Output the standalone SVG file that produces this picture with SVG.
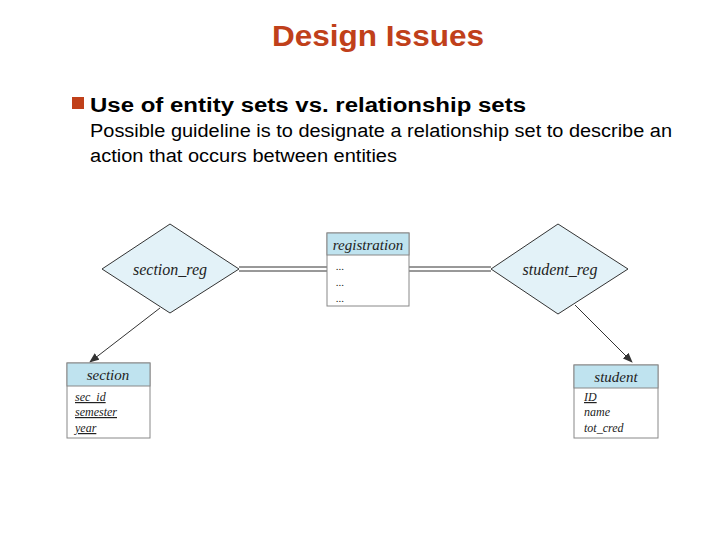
<svg xmlns="http://www.w3.org/2000/svg" width="720" height="540" viewBox="0 0 720 540">
<style>
.t{font-family:"Liberation Sans",Arial,sans-serif}
.er{font-family:"Liberation Serif","Times New Roman",serif;font-style:italic;fill:#222}
.box{fill:#fff;stroke:#888;stroke-width:1}
.hd{fill:#bfe3ef;stroke:#888;stroke-width:1}
.dia{fill:#e3f2f8;stroke:#333;stroke-width:1}
.ln{stroke:#333;stroke-width:1;fill:none}
</style>
<defs><marker id="a" markerWidth="10" markerHeight="8" refX="9" refY="4" orient="auto" markerUnits="userSpaceOnUse"><path d="M0,0L10,4L0,8z" fill="#333"/></marker></defs>
<rect width="720" height="540" fill="#fff"/>
<text class="t" x="272" y="46" font-size="29" font-weight="bold" fill="#c0401a" textLength="212" lengthAdjust="spacingAndGlyphs">Design Issues</text>
<rect x="72" y="97" width="12" height="12" fill="#c0401a"/>
<text class="t" x="90" y="112" font-size="20" font-weight="bold" fill="#000" textLength="436" lengthAdjust="spacingAndGlyphs">Use of entity sets vs. relationship sets</text>
<text class="t" x="90" y="137" font-size="18" fill="#000" textLength="582" lengthAdjust="spacingAndGlyphs">Possible guideline is to designate a relationship set to describe an</text>
<text class="t" x="90" y="162" font-size="18" fill="#000" textLength="307" lengthAdjust="spacingAndGlyphs">action that occurs between entities</text>
<g id="connectors">
<line class="ln" x1="239" y1="267" x2="327" y2="267"/><line class="ln" x1="239" y1="271" x2="327" y2="271"/>
<line class="ln" x1="409" y1="267" x2="491" y2="267"/><line class="ln" x1="409" y1="271" x2="491" y2="271"/>
<line class="ln" x1="160" y1="308" x2="90" y2="362" marker-end="url(#a)"/>
<line class="ln" x1="575" y1="305" x2="632" y2="362" marker-end="url(#a)"/>
</g>
<g id="section_reg"><polygon class="dia" points="102,269 170,224 239,269 170,313"/><text class="er" x="170" y="275" text-anchor="middle" font-size="16">section_reg</text></g>
<g id="student_reg"><polygon class="dia" points="491,269 558,224 628,269 558,314"/><text class="er" x="560" y="275" text-anchor="middle" font-size="16">student_reg</text></g>
<g id="registration"><rect class="box" x="327" y="233" width="82" height="73"/><rect class="hd" x="327" y="233" width="82" height="22"/><text class="er" x="368" y="250" text-anchor="middle" font-size="15">registration</text>
<text class="er" x="336" y="270" font-size="11">...</text><text class="er" x="336" y="286" font-size="11">...</text><text class="er" x="336" y="302" font-size="11">...</text></g>
<g id="section"><rect class="box" x="67" y="363" width="83" height="75"/><rect class="hd" x="67" y="363" width="83" height="23"/><text class="er" x="108" y="380" text-anchor="middle" font-size="15">section</text>
<text class="er" x="75" y="401" font-size="12" text-decoration="underline">sec_id</text><text class="er" x="75" y="416" font-size="12" text-decoration="underline">semester</text><text class="er" x="75" y="432" font-size="12" text-decoration="underline">year</text></g>
<g id="student"><rect class="box" x="574" y="365" width="84" height="73"/><rect class="hd" x="574" y="365" width="84" height="23"/><text class="er" x="616" y="382" text-anchor="middle" font-size="15">student</text>
<text class="er" x="584" y="401" font-size="12" text-decoration="underline">ID</text><text class="er" x="584" y="416" font-size="12">name</text><text class="er" x="584" y="432" font-size="12">tot_cred</text></g>
</svg>
